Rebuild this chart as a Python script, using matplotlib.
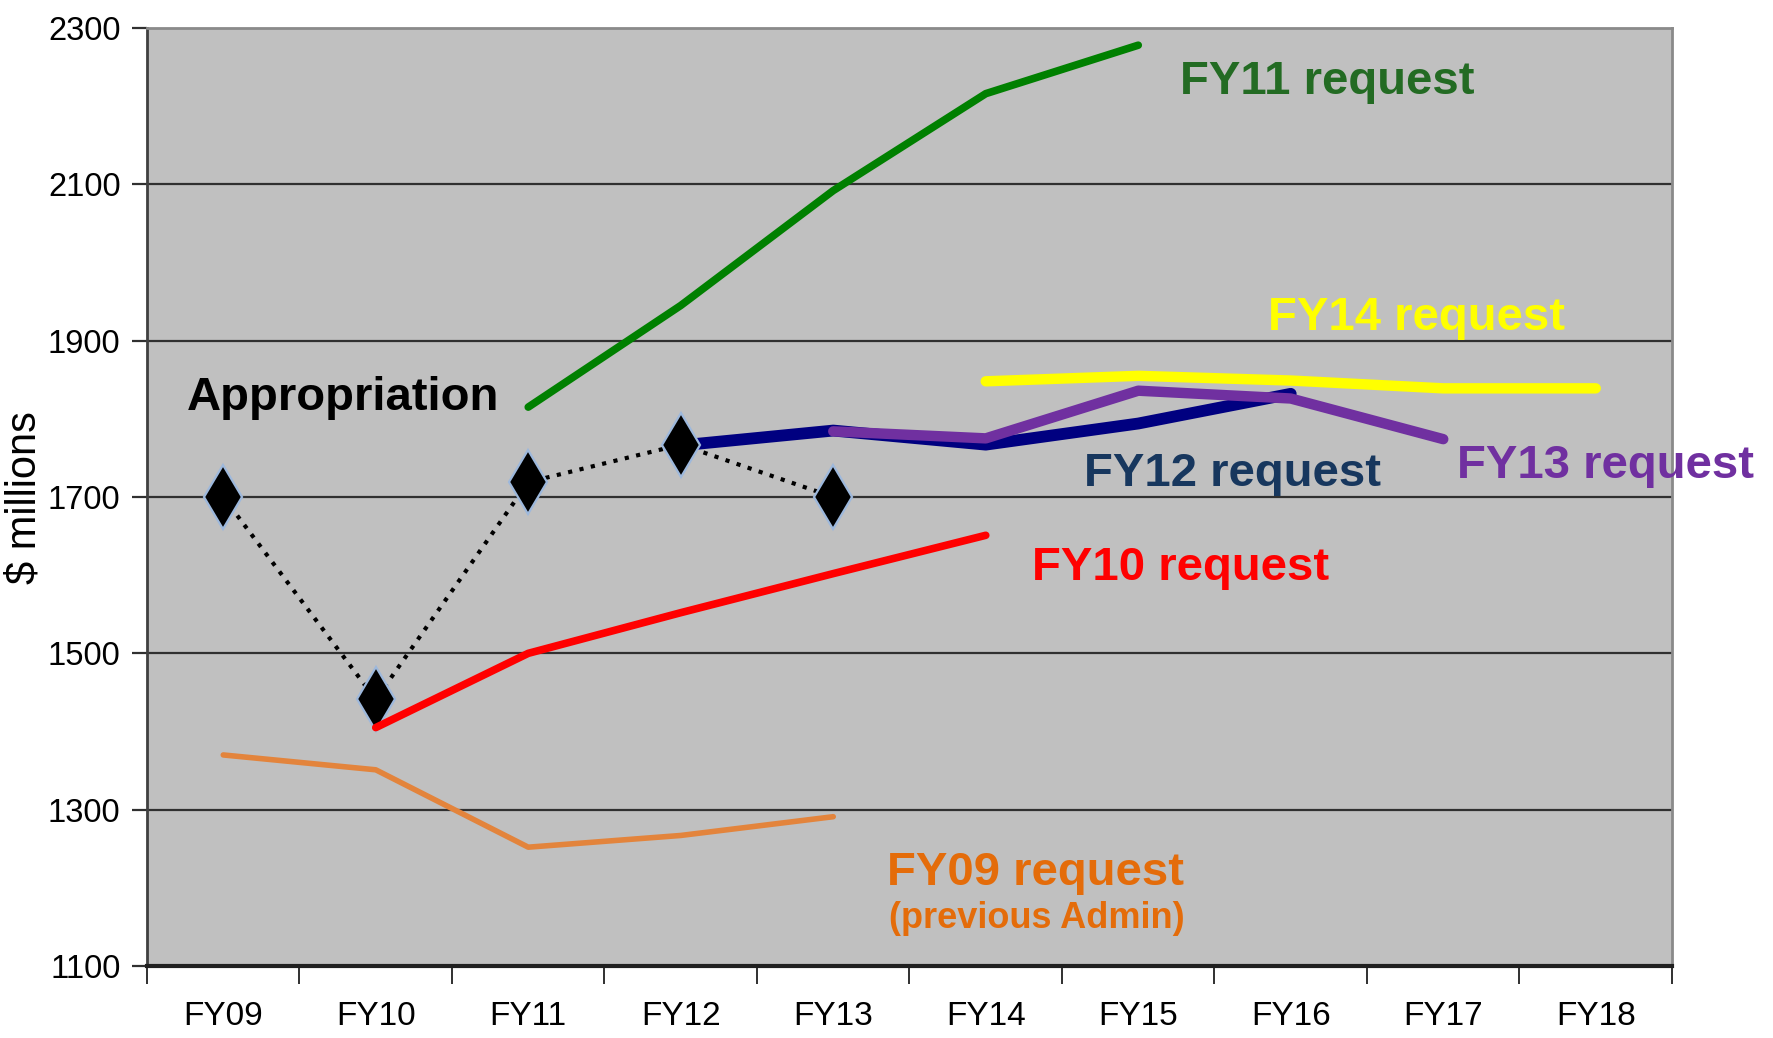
import matplotlib
matplotlib.use("Agg")
import matplotlib.pyplot as plt
import numpy as np

# ---- data ----
years = ["FY09", "FY10", "FY11", "FY12", "FY13", "FY14", "FY15", "FY16", "FY17", "FY18"]
y_ticks = [1100, 1300, 1500, 1700, 1900, 2100, 2300]

approp_years = ["FY09", "FY10", "FY11", "FY12", "FY13"]
approp_vals = [1700, 1441, 1719, 1767, 1700]

fy09_years = ["FY09", "FY10", "FY11", "FY12", "FY13"]
fy09_vals = [1370, 1351, 1252, 1267, 1291]

fy10_years = ["FY10", "FY11", "FY12", "FY13", "FY14"]
fy10_vals = [1405, 1500, 1552, 1602, 1651]

fy11_years = ["FY11", "FY12", "FY13", "FY14", "FY15"]
fy11_vals = [1815, 1945, 2092, 2216, 2278]

fy12_years = ["FY12", "FY13", "FY14", "FY15", "FY16"]
fy12_vals = [1766, 1785, 1767, 1794, 1832]

fy13_years = ["FY13", "FY14", "FY15", "FY16", "FY17"]
fy13_vals = [1784, 1775, 1836, 1826, 1774]

fy14_years = ["FY14", "FY15", "FY16", "FY17", "FY18"]
fy14_vals = [1848, 1855, 1849, 1839, 1839]

REG = "Liberation Sans"

W, H = 1774, 1038
fig = plt.figure(figsize=(W / 100, H / 100), dpi=100)
L, R, T, B = 147, 1672, 28, 966
ax = fig.add_axes([L / W, 1 - B / H, (R - L) / W, (B - T) / H])
ax.set_facecolor("#c0c0c0")

idx = {y: i for i, y in enumerate(years)}
def xs(lst):
    return [idx[v] for v in lst]

ax.set_xlim(-0.5, len(years) - 0.5)
ax.set_ylim(1100, 2300)

# grid
for yv in y_ticks[1:-1]:
    ax.axhline(yv, color="#303030", lw=1.6, zorder=1)

# lines
ax.plot(xs(fy09_years), fy09_vals, color="#e3843c", lw=4, solid_capstyle="round", zorder=3)
ax.plot(xs(fy11_years), fy11_vals, color="#008000", lw=5.5, solid_capstyle="round", zorder=3)
ax.plot(xs(fy14_years), fy14_vals, color="#ffff00", lw=7.5, solid_capstyle="round", zorder=3)
ax.plot(xs(fy12_years), fy12_vals, color="#000080", lw=8.5, solid_capstyle="round", zorder=3)
ax.plot(xs(fy13_years), fy13_vals, color="#7030a0", lw=7.5, solid_capstyle="round", zorder=4)
ax.plot(xs(approp_years), approp_vals, color="black", lw=3, linestyle=(0, (1, 1.8)), zorder=5)
ax.plot(xs(approp_years), approp_vals, linestyle="none", marker="d", markersize=33,
        markerfacecolor="black", markeredgecolor="#9db8dc", markeredgewidth=1.6, zorder=6)
ax.plot(xs(fy10_years), fy10_vals, color="#ff0000", lw=5.5, solid_capstyle="round", zorder=7)

# axes styling
ax.set_yticks(y_ticks)
ax.set_yticklabels([str(v) for v in y_ticks], fontsize=23.5, family=REG)
ax.set_xticks(range(len(years)))
ax.set_xticklabels(years, fontsize=24, family=REG)
ax.set_xticks(np.arange(-0.5, len(years), 1.0), minor=True)
ax.tick_params(axis="x", which="major", length=0, pad=25)
ax.tick_params(axis="x", which="minor", length=13, width=1.3, color="#202020", direction="out")
ax.tick_params(axis="y", which="major", length=11, width=1.6, color="#303030", direction="out", pad=8)

ax.spines["left"].set_color("#404040")
ax.spines["left"].set_linewidth(2)
ax.spines["bottom"].set_color("#202020")
ax.spines["bottom"].set_linewidth(3)
ax.spines["top"].set_color("#8a8a8a")
ax.spines["top"].set_linewidth(2)
ax.spines["right"].set_color("#8a8a8a")
ax.spines["right"].set_linewidth(2)

fig.text(25 / W, 1 - 498 / H, "$ millions", rotation=90, ha="center", va="center",
         fontsize=30, family=REG, color="black")

# annotations (pixel positions: left, baseline)
def label(x, y, s, color, size=34):
    fig.text(x / W, 1 - y / H, s, ha="left", va="baseline", fontsize=size,
             fontweight="bold", family=REG, color=color)

label(1180, 94, "FY11 request", "#236b23")
label(1268, 330, "FY14 request", "#ffff00")
label(187, 410, "Appropriation", "black")
label(1084, 486, "FY12 request", "#17375e")
label(1457, 478, "FY13 request", "#7030a0")
label(1032, 580, "FY10 request", "#ff0000")
label(887, 885, "FY09 request", "#e46c0a")
fig.text((887 + 1187) / 2 / W, 1 - 928 / H, "(previous Admin)", ha="center", va="baseline",
         fontsize=26, fontweight="bold", family=REG, color="#e46c0a")

fig.savefig("out.png", dpi=100)
